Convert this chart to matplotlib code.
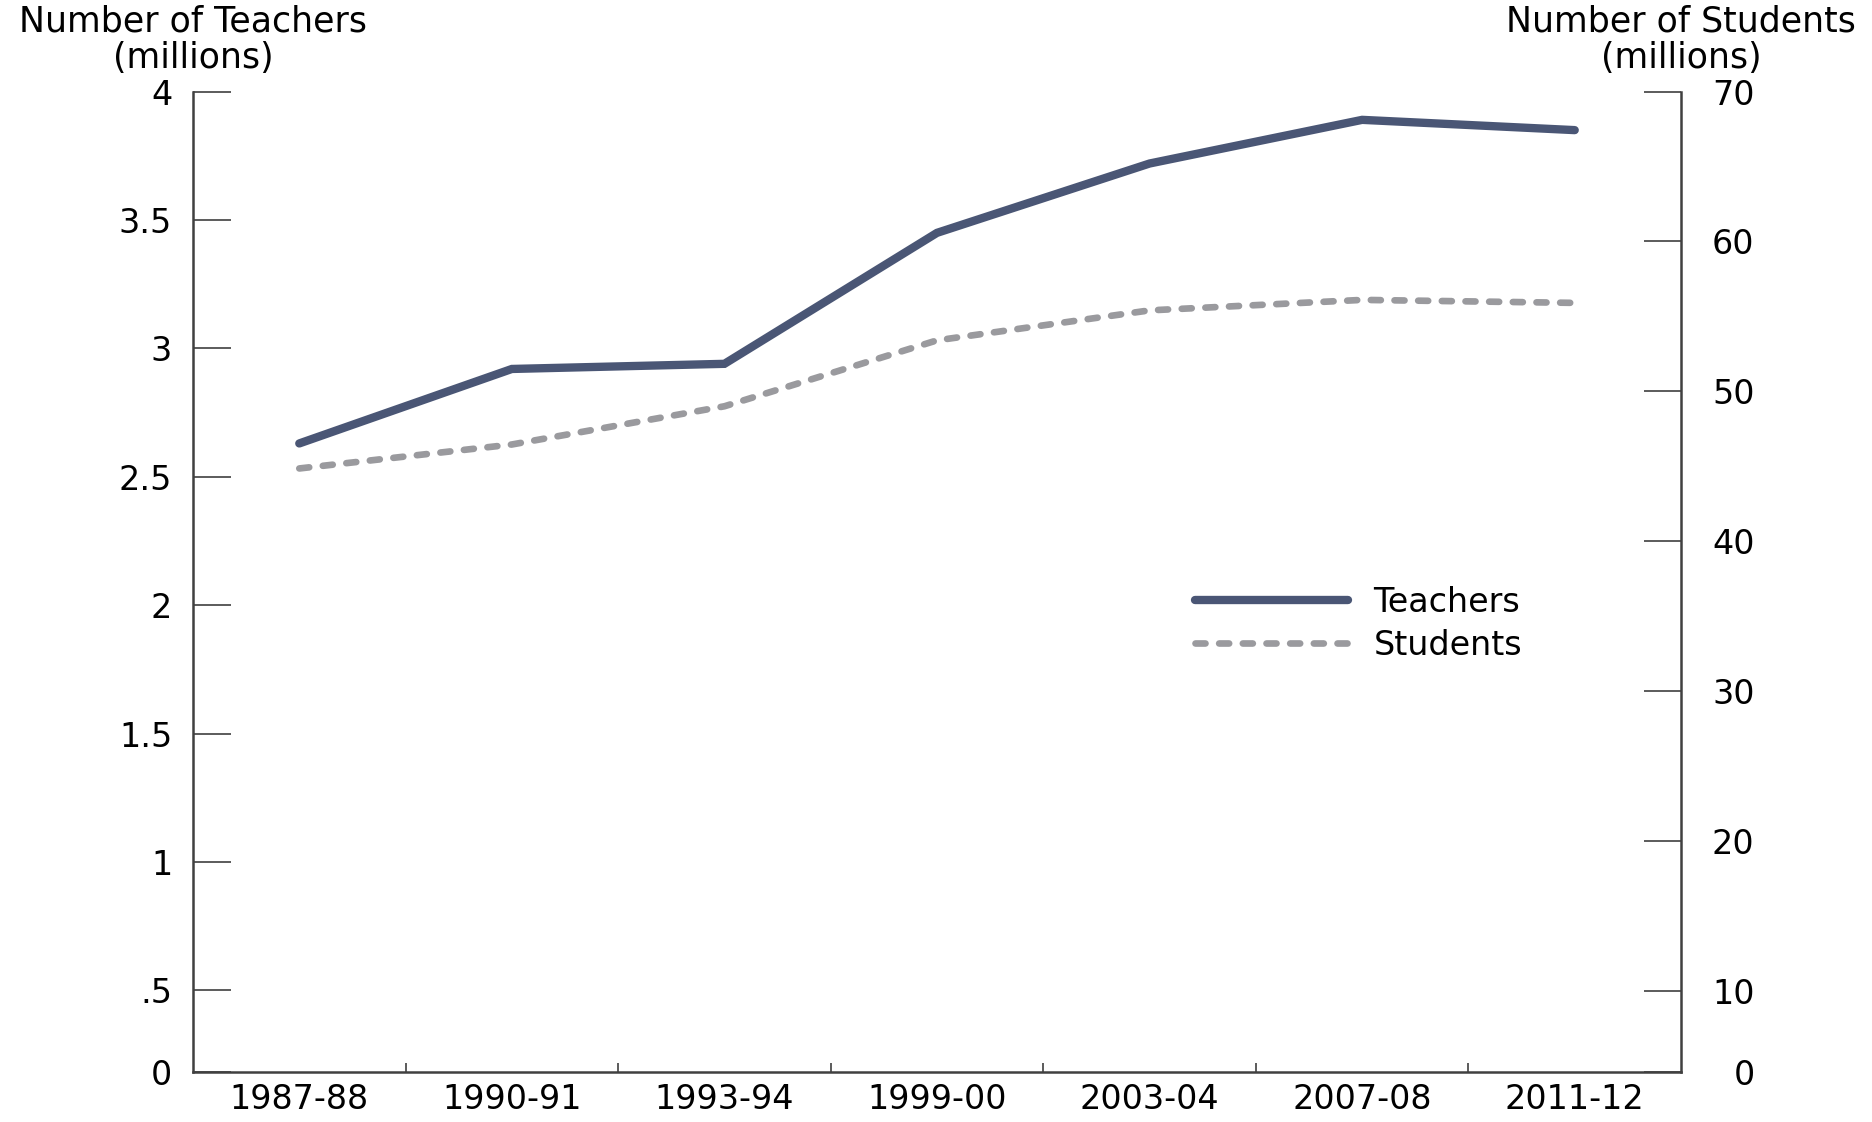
import matplotlib.pyplot as plt

years = ['1987-88', '1990-91', '1993-94', '1999-00', '2003-04', '2007-08', '2011-12']
teachers = [2.63, 2.92, 2.94, 3.45, 3.72, 3.89, 3.85]
students = [44.85, 46.45, 49.0, 53.4, 55.4, 56.1, 55.9]

# the chart's "0" labels sit at the bottom edge, not at a true zero
left_ticks = [0.184, 0.5, 1, 1.5, 2, 2.5, 3, 3.5, 4]
left_labels = ['0', '.5', '1', '1.5', '2', '2.5', '3', '3.5', '4']
right_ticks = [4.6, 10, 20, 30, 40, 50, 60, 70]
right_labels = ['0', '10', '20', '30', '40', '50', '60', '70']

plt.rcParams['font.family'] = ['DejaVu Sans']

W, H = 1872, 1122
fig = plt.figure(figsize=(W / 100, H / 100), dpi=100)
ax = fig.add_axes([193 / W, 1 - 1071.6 / H, (1681 - 193) / W, (1071.6 - 91.6) / H])
ax2 = ax.twinx()

x = list(range(len(years)))
l1, = ax.plot(x, teachers, color='#4a5675', lw=6, solid_capstyle='round',
              solid_joinstyle='miter', label='Teachers')
l2, = ax2.plot(x, students, color='#9a9a9e', lw=4.8, ls=(0, (1.5, 2.05)),
               dash_capstyle='round', label='Students')

spine_col = '#404040'
ax.set_xlim(-0.5, len(years) - 0.5)
ax.set_xticks(x)
ax.set_xticklabels(years)
ax.set_xticks([i + 0.5 for i in x[:-1]], minor=True)
ax.tick_params(axis='x', which='major', length=0, pad=8, labelsize=24)
ax.tick_params(axis='x', which='minor', direction='in', length=6.5, width=1.2, color=spine_col)

ax.set_ylim(left_ticks[0], left_ticks[-1])
ax.set_yticks(left_ticks)
ax.set_yticklabels(left_labels)
ax.tick_params(axis='y', direction='in', length=27, width=1.2, color=spine_col, pad=15, labelsize=24)

ax2.set_ylim(right_ticks[0], right_ticks[-1])
ax2.set_yticks(right_ticks)
ax2.set_yticklabels(right_labels)
ax2.tick_params(axis='y', direction='in', length=27, width=1.2, color=spine_col, pad=53, labelsize=24)
for lab in ax2.get_yticklabels():
    lab.set_ha('right')

for s in ['top', 'right']:
    ax.spines[s].set_visible(False)
for s in ['top', 'left', 'bottom']:
    ax2.spines[s].set_visible(False)
for sp in [ax.spines['left'], ax.spines['bottom'], ax2.spines['right']]:
    sp.set_color(spine_col)
    sp.set_linewidth(1.8)

fig.text(193 / W, 1 - 4 / H, 'Number of Teachers\n(millions)', ha='center', va='top',
         fontsize=25, linespacing=1.1)
fig.text(1681 / W, 1 - 4 / H, 'Number of Students\n(millions)', ha='center', va='top',
         fontsize=25, linespacing=1.1)

ax2.legend([l1, l2], ['Teachers', 'Students'], loc='upper left',
           bbox_to_anchor=(1195 / W, 1 - 586 / H), bbox_transform=fig.transFigure,
           frameon=False, fontsize=24, handlelength=4.6, handletextpad=0.75,
           labelspacing=0.3, borderpad=0, borderaxespad=0)

fig.savefig('out.png', dpi=100)
